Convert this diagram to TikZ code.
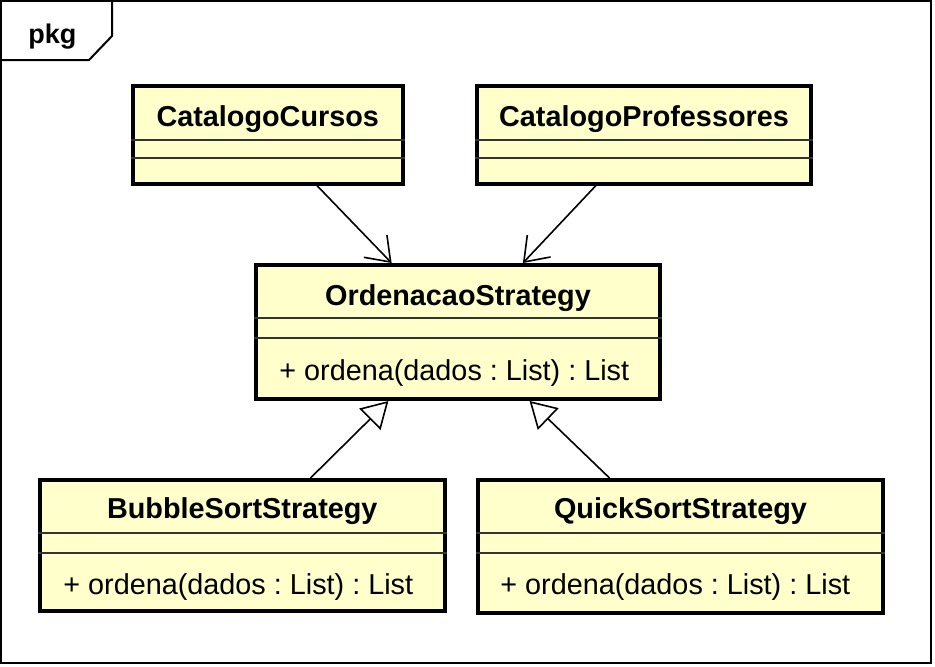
\documentclass[tikz,border=0pt]{standalone}
\usepackage{fontspec}
\setmainfont{Liberation Sans}
\usetikzlibrary{arrows.meta}
\definecolor{classfill}{HTML}{FFFFCC}
\frenchspacing

\begin{document}
\begin{tikzpicture}[x=0.5pt, y=-0.5pt,
	classbox/.style={draw, line width=2pt, fill=classfill, inner sep=0pt},
	classname/.style={font=\bfseries\fontsize{14.4}{17}\selectfont, anchor=base, inner sep=0pt},
	operation/.style={font=\fontsize{14.4}{17}\selectfont, anchor=base west, inner sep=0pt},
	divider/.style={line width=1pt, draw=black!80},
	uses/.style={-{Straight Barb[length=11pt, width=16pt]}, line width=0.8pt},
	realizes/.style={-{Triangle[length=13pt, width=15pt, fill=white]}, line width=0.8pt}]
	\useasboundingbox (0,0) rectangle (935,666);

	% package frame
	\draw[line width=1pt] (1,1) rectangle (931,663);
	\draw[line width=1pt] (112,1) -- (112,36) -- (89,60) -- (1,60);
	\node[font=\bfseries\fontsize{13.5}{16}\selectfont, anchor=base west, inner sep=0pt] (pkg) at (28,43) {pkg};

	% classes
	\node[classbox, minimum width=135.25pt, minimum height=49pt] (cc) at (267.75,134.5) {};
	\node[classbox, minimum width=167pt, minimum height=49pt] (cp) at (644,134.5) {};
	\node[classbox, minimum width=202pt, minimum height=67pt] (os) at (458,332) {};
	\node[classbox, minimum width=202.75pt, minimum height=65.5pt] (bs) at (242.25,545.5) {};
	\node[classbox, minimum width=202.5pt, minimum height=66.5pt] (qs) at (680.5,546.5) {};

	\foreach \c/\a/\b in {cc/140/158, cp/140/158, os/318/338, bs/533/553, qs/533/553} {
		\draw[divider] (\c.west |- 0,\a) -- (\c.east |- 0,\a);
		\draw[divider] (\c.west |- 0,\b) -- (\c.east |- 0,\b);
	}

	\node[classname] (cc-name) at (267.75,126) {CatalogoCursos};
	\node[classname] (cp-name) at (644,126) {CatalogoProfessores};
	\node[classname] (os-name) at (458,305) {OrdenacaoStrategy};
	\node[classname] (bs-name) at (242.25,518) {BubbleSortStrategy};
	\node[classname] (qs-name) at (680.5,518) {QuickSortStrategy};

	\node[operation] (os-op) at (279,380) {+ ordena(dados : List) : List};
	\node[operation] (bs-op) at (63,594) {+ ordena(dados : List) : List};
	\node[operation] (qs-op) at (500,594) {+ ordena(dados : List) : List};

	% relations
	\draw[uses] (cc) -- (os);
	\draw[uses] (cp) -- (os);
	\draw[realizes] (bs) -- (os);
	\draw[realizes] (qs) -- (os);
\end{tikzpicture}
\end{document}
